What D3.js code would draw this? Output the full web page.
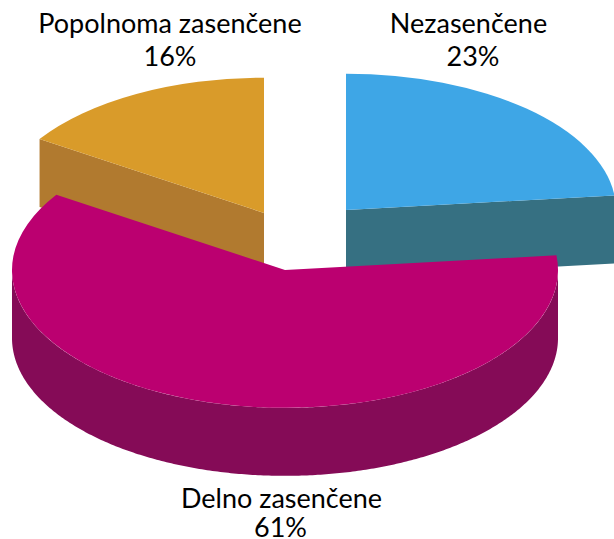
<!DOCTYPE html>
<html>
<head>
<meta charset="utf-8">
<script src="https://cdn.jsdelivr.net/npm/d3@7"></script>
<style>
  html, body { margin: 0; padding: 0; background: #fff; }
  text { font-family: Lato, sans-serif; font-size: 27px; fill: #000; text-anchor: middle; }
</style>
</head>
<body>
<div id="chart"></div>
<script>
const categories = ['Nezasenčene', 'Delno zasenčene', 'Popolnoma zasenčene']
const values = [23.3, 60.9, 15.8]
const topColors = ['#3ea6e6', '#bb0070', '#d99b2a']
const sideColors = ['#367082', '#850b57', '#b17a2f']

// where each exploded slice sits, and where its label goes
const centers = [[346, 210], [285, 270], [264, 213]]
const radii = [270, 273, 268]
const nameX = [468.5, 281.5, 170]
const nameY = [33, 508, 33]
const pctX = [473, 280.5, 170]
const pctY = [66, 537, 66]

const width = 614
const height = 539
const squash = 0.505
const depth = 68

const svg = d3.select('#chart').append('svg')
  .attr('width', width)
  .attr('height', height)
  .style('display', 'block')

const slices = d3.pie().sort(null)(values)
const arc = d3.arc().innerRadius(0)
const pct = d3.format('.0f')

// point on the squashed rim of a slice, angle clockwise from 12 o'clock
const rim = (i, a, dy = 0) => [
  centers[i][0] + radii[i] * Math.sin(a),
  centers[i][1] - radii[i] * squash * Math.cos(a) + dy
]

const line = d3.line()

function drawSlice (i) {
  const s = slices[i]
  const g = svg.append('g')

  // cut face on the clockwise edge, seen for the slices in the back
  if (i !== 1) {
    const a = i === 0 ? s.endAngle : s.startAngle
    const [cx, cy] = centers[i]
    g.append('path')
      .attr('d', line([[cx, cy], rim(i, a), rim(i, a, depth), [cx, cy + depth]]) + 'Z')
      .attr('fill', sideColors[i])
  }

  // outer wall, only the front half of the rim shows
  const from = Math.max(s.startAngle, Math.PI / 2)
  const to = Math.min(s.endAngle, Math.PI * 1.5)
  if (from < to) {
    const angles = d3.range(from, to, 0.01).concat(to)
    const pts = angles.map(a => rim(i, a)).concat(angles.slice().reverse().map(a => rim(i, a, depth)))
    g.append('path')
      .attr('d', line(pts) + 'Z')
      .attr('fill', sideColors[i])
  }

  g.append('path')
    .attr('transform', `translate(${centers[i][0]},${centers[i][1]}) scale(1,${squash})`)
    .attr('d', arc.outerRadius(radii[i])(s))
    .attr('fill', topColors[i])
}

// back slices first, the big one overlaps them
drawSlice(0)
drawSlice(2)
drawSlice(1)

categories.forEach((c, i) => {
  svg.append('text').attr('x', nameX[i]).attr('y', nameY[i]).text(c)
  svg.append('text').attr('x', pctX[i]).attr('y', pctY[i]).text(pct(values[i]) + '%')
})
</script>
</body>
</html>
